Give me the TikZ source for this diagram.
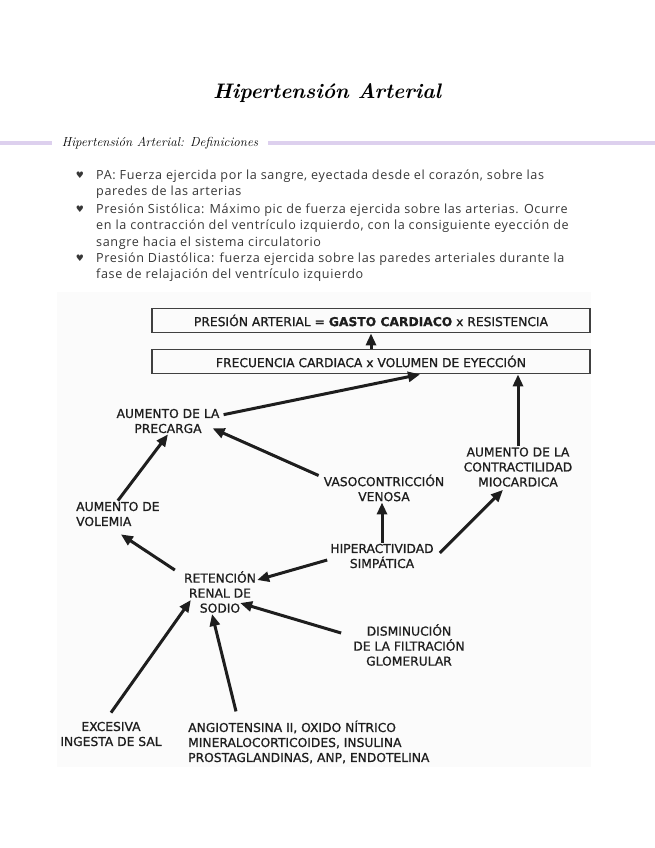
\documentclass[tikz,border=0pt]{standalone}
\usepackage{fontspec}
\usetikzlibrary{arrows.meta}
\newfontfamily\diagfont[FakeBold=0.9]{DejaVu Sans}
\newfontfamily\bodyfont[LetterSpace=5]{Open Sans}
\newfontfamily\symfont{DejaVu Sans}
\definecolor{lavender}{RGB}{221,208,238}
\definecolor{ink}{RGB}{30,30,30}
\definecolor{bodygray}{RGB}{55,55,55}
\tikzset{
  lbl/.style={font=\diagfont\fontsize{12.3}{15}\selectfont, text=ink, align=center, inner sep=1pt},
  eqbox/.style={lbl, draw=ink!85, line width=1.8pt, minimum width=438pt, minimum height=24pt},
  arr/.style={line width=3pt, draw=ink, -{Triangle[length=12pt,width=10pt]}},
  bar/.style={line width=4pt, draw=lavender},
  heart/.style={font=\symfont\fontsize{9}{9}\selectfont, text=bodygray, inner sep=0pt},
  bodytext/.style={font=\bodyfont\fontsize{12.6}{16.5}\selectfont, text=bodygray, align=left, inner sep=0pt, anchor=north west}
}
\begin{document}
\begin{tikzpicture}[x=1pt,y=-1pt]
\useasboundingbox (0,0) rectangle (655,848);
% title and heading
\node[font=\bfseries\itshape\fontsize{21}{24}\selectfont] (title) at (327,93) {Hipertensión Arterial};
\node[font=\itshape\fontsize{13}{15}\selectfont, inner sep=0pt] (subtitle) at (160,143) {Hipertensión Arterial: Definiciones};
\draw[bar] (0,143) -- (52,143);
\draw[bar] (268,143) -- (655,143);

% definitions
\node[heart] (h1) at (80,175) {♥};
\node[bodytext] (pa) at (96,169.5) {PA: Fuerza ejercida por la sangre, eyectada desde el corazón, sobre las\\paredes de las arterias};
\node[heart] (h2) at (80,209) {♥};
\node[bodytext] (sist) at (96,203.5) {Presión Sistólica: Máximo pic de fuerza ejercida sobre las arterias. Ocurre\\en la contracción del ventrículo izquierdo, con la consiguiente eyección de\\sangre hacia el sistema circulatorio};
\node[heart] (h3) at (80,258) {♥};
\node[bodytext] (diast) at (96,252.5) {Presión Diastólica: fuerza ejercida sobre las paredes arteriales durante la\\fase de relajación del ventrículo izquierdo};

% diagram
\fill[gray!3] (57,292) rectangle (591,767);
\node[eqbox] (pres) at (371,320.5) {PRESIÓN ARTERIAL = \textbf{GASTO CARDIACO} x RESISTENCIA};
\node[eqbox] (gasto) at (371,361.5) {FRECUENCIA CARDIACA x VOLUMEN DE EYECCIÓN};
\node[lbl] (precarga) at (168,421) {AUMENTO DE LA\\PRECARGA};
\node[lbl] (contract) at (518,467) {AUMENTO DE LA\\CONTRACTILIDAD\\MIOCARDICA};
\node[lbl] (venosa) at (384,488) {VASOCONTRICCIÓN\\VENOSA};
\node[lbl, align=left, anchor=west] (volemia) at (75,514) {AUMENTO DE\\VOLEMIA};
\node[lbl] (hiper) at (382,556) {HIPERACTIVIDAD\\SIMPÁTICA};
\node[lbl] (reten) at (220,592) {RETENCIÓN\\RENAL DE\\SODIO};
\node[lbl] (dismin) at (409,645) {DISMINUCIÓN\\DE LA FILTRACIÓN\\GLOMERULAR};
\node[lbl] (sal) at (111,734) {EXCESIVA\\INGESTA DE SAL};
\node[lbl, align=left, anchor=west] (angio) at (187,742) {ANGIOTENSINA II, OXIDO NÍTRICO\\MINERALOCORTICOIDES, INSULINA\\PROSTAGLANDINAS, ANP, ENDOTELINA};

\draw[arr] (gasto.north) -- (pres.south);
\draw[arr] ([xshift=3pt,yshift=-7pt]precarga.north east) -- ([xshift=49pt]gasto.south);
\draw[arr] (contract.north) -- (contract.north |- gasto.south);
\draw[arr] ([xshift=-4pt,yshift=-2pt]venosa.north west) -- ([xshift=-8pt,yshift=6pt]precarga.south east);
\draw[arr] (volemia.north) -- (precarga.south);
\draw[arr] (hiper.north) -- (hiper.north |- venosa.south);
\draw[arr] ([xshift=5pt,yshift=3pt]hiper.east) -- ([xshift=-15pt,yshift=-2pt]contract.south);
\draw[arr] ([xshift=-2pt,yshift=-4pt]hiper.west) -- ([xshift=0pt,yshift=-10pt]reten.north east);
\draw[arr] ([xshift=-8pt,yshift=0pt]reten.north west) -- ([xshift=3pt,yshift=-7pt]volemia.south);
\draw[arr] ([xshift=-11pt,yshift=-10pt]dismin.north west) -- ([xshift=-17pt,yshift=-11pt]reten.east);
\draw[arr] ([yshift=8pt]sal.north) -- ([xshift=8pt,yshift=-8pt]reten.west);
\draw[arr] ([xshift=49pt,yshift=8pt]angio.north west) -- ([xshift=-8pt]reten.south);
\end{tikzpicture}
\end{document}
